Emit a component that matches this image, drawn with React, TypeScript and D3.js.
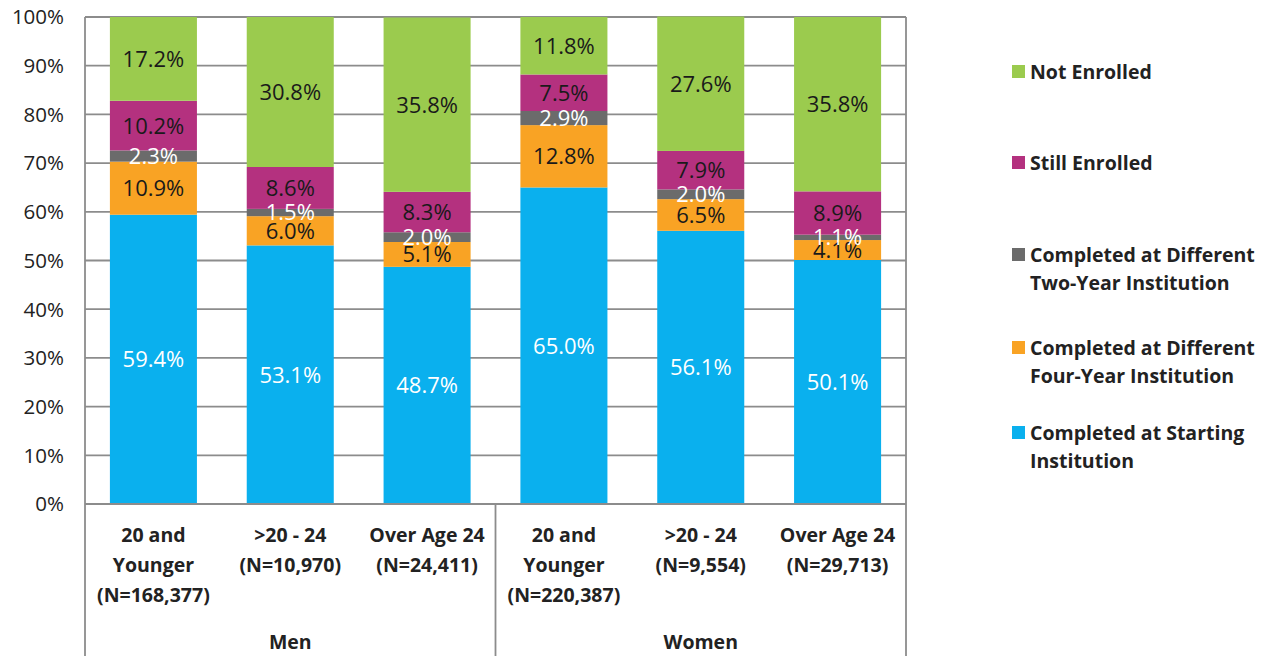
import React from "react";
import * as d3 from "d3";

const categories = [
  ["20 and", "Younger", "(N=168,377)"],
  [">20 - 24", "(N=10,970)"],
  ["Over Age 24", "(N=24,411)"],
  ["20 and", "Younger", "(N=220,387)"],
  [">20 - 24", "(N=9,554)"],
  ["Over Age 24", "(N=29,713)"],
];
const groups = ["Men", "Women"];
const seriesNames = [
  "Completed at Starting Institution",
  "Completed at Different Four-Year Institution",
  "Completed at Different Two-Year Institution",
  "Still Enrolled",
  "Not Enrolled",
];
const legendLines = [
  ["Completed at Starting", "Institution"],
  ["Completed at Different", "Four-Year Institution"],
  ["Completed at Different", "Two-Year Institution"],
  ["Still Enrolled"],
  ["Not Enrolled"],
];
const startingInst = [59.4, 53.1, 48.7, 65.0, 56.1, 50.1];
const fourYear = [10.9, 6.0, 5.1, 12.8, 6.5, 4.1];
const twoYear = [2.3, 1.5, 2.0, 2.9, 2.0, 1.1];
const stillEnrolled = [10.2, 8.6, 8.3, 7.5, 7.9, 8.9];
const notEnrolled = [17.2, 30.8, 35.8, 11.8, 27.6, 35.8];
const yTicks = [0, 10, 20, 30, 40, 50, 60, 70, 80, 90, 100];

const seriesValues = [startingInst, fourYear, twoYear, stillEnrolled, notEnrolled];
const colors = ["#0AB0EE", "#F9A324", "#6B6B6B", "#B4317F", "#9BCB4E"];
const labelColors = ["#ffffff", "#1a1a1a", "#ffffff", "#1a1a1a", "#1a1a1a"];

const FONT = "'Open Sans', Lato, sans-serif";

export default function App() {
  const left = 85, right = 906, top = 17, bottom = 504;
  const x = d3.scaleBand<number>().domain(d3.range(categories.length)).range([left, right]).paddingInner(0.364).paddingOuter(0.182);
  const y = d3.scaleLinear().domain([0, 100]).range([bottom, top]);
  const grid = "#8C8C8C";

  const segs: any[] = [];
  categories.forEach((_, i) => {
    let acc = 0;
    seriesValues.forEach((vals, s) => {
      const v = vals[i];
      segs.push({ i, s, y0: acc, y1: acc + v, v });
      acc += v;
    });
  });

  const sep = (x(2)! + x.bandwidth() + x(3)!) / 2;
  const legendY = [433, 348, 255, 163, 72];

  return (
    <svg width={1270} height={656} style={{ position: "absolute", left: 0, top: 0, background: "#fff" }}>
      {yTicks.map((t) => (
        <g key={t}>
          <line x1={left} x2={right} y1={y(t)} y2={y(t)} stroke={grid} strokeWidth={1.8} />
          <text x={64} y={y(t)} dy="0.36em" textAnchor="end" fontFamily={FONT} fontSize={20.5} fill="#222">
            {t}%
          </text>
        </g>
      ))}
      {segs.map((d, k) => (
        <rect key={k} x={x(d.i)} width={x.bandwidth()} y={y(d.y1)} height={y(d.y0) - y(d.y1)} fill={colors[d.s]} />
      ))}
      {segs.map((d, k) => (
        <text key={"l" + k} x={x(d.i)! + x.bandwidth() / 2} y={y((d.y0 + d.y1) / 2)} dy="0.36em" textAnchor="middle"
          fontFamily={FONT} fontSize={22} fill={labelColors[d.s]}>
          {d.v.toFixed(1)}%
        </text>
      ))}
      <line x1={left} x2={left} y1={top} y2={656} stroke={grid} strokeWidth={1.8} />
      <line x1={right} x2={right} y1={top} y2={656} stroke={grid} strokeWidth={1.8} />
      <line x1={sep} x2={sep} y1={bottom} y2={656} stroke={grid} strokeWidth={1.8} />
      <line x1={left} x2={right} y1={bottom} y2={bottom} stroke={grid} strokeWidth={1.8} />
      {categories.map((lines, i) => (
        <text key={"c" + i} x={x(i)! + x.bandwidth() / 2} textAnchor="middle" fontFamily={FONT} fontWeight={700} fontSize={19.5} fill="#222">
          {lines.map((ln, j) => (
            <tspan key={j} x={x(i)! + x.bandwidth() / 2} y={535 + j * 30} dy="0.35em">{ln}</tspan>
          ))}
        </text>
      ))}
      {groups.map((g, gi) => (
        <text key={g} x={gi === 0 ? (left + sep) / 2 : (sep + right) / 2} y={642} dy="0.35em" textAnchor="middle"
          fontFamily={FONT} fontWeight={700} fontSize={19.5} fill="#222">
          {g}
        </text>
      ))}
      {seriesNames.map((name, s) => (
        <g key={name}>
          <rect x={1012} y={legendY[s] - 7} width={13} height={13} fill={colors[s]} />
          <text fontFamily={FONT} fontWeight={700} fontSize={19.5} fill="#222">
            {legendLines[s].map((ln, j) => (
              <tspan key={j} x={1030} y={legendY[s] + j * 28} dy="0.35em">{ln}</tspan>
            ))}
          </text>
        </g>
      ))}
    </svg>
  );
}
